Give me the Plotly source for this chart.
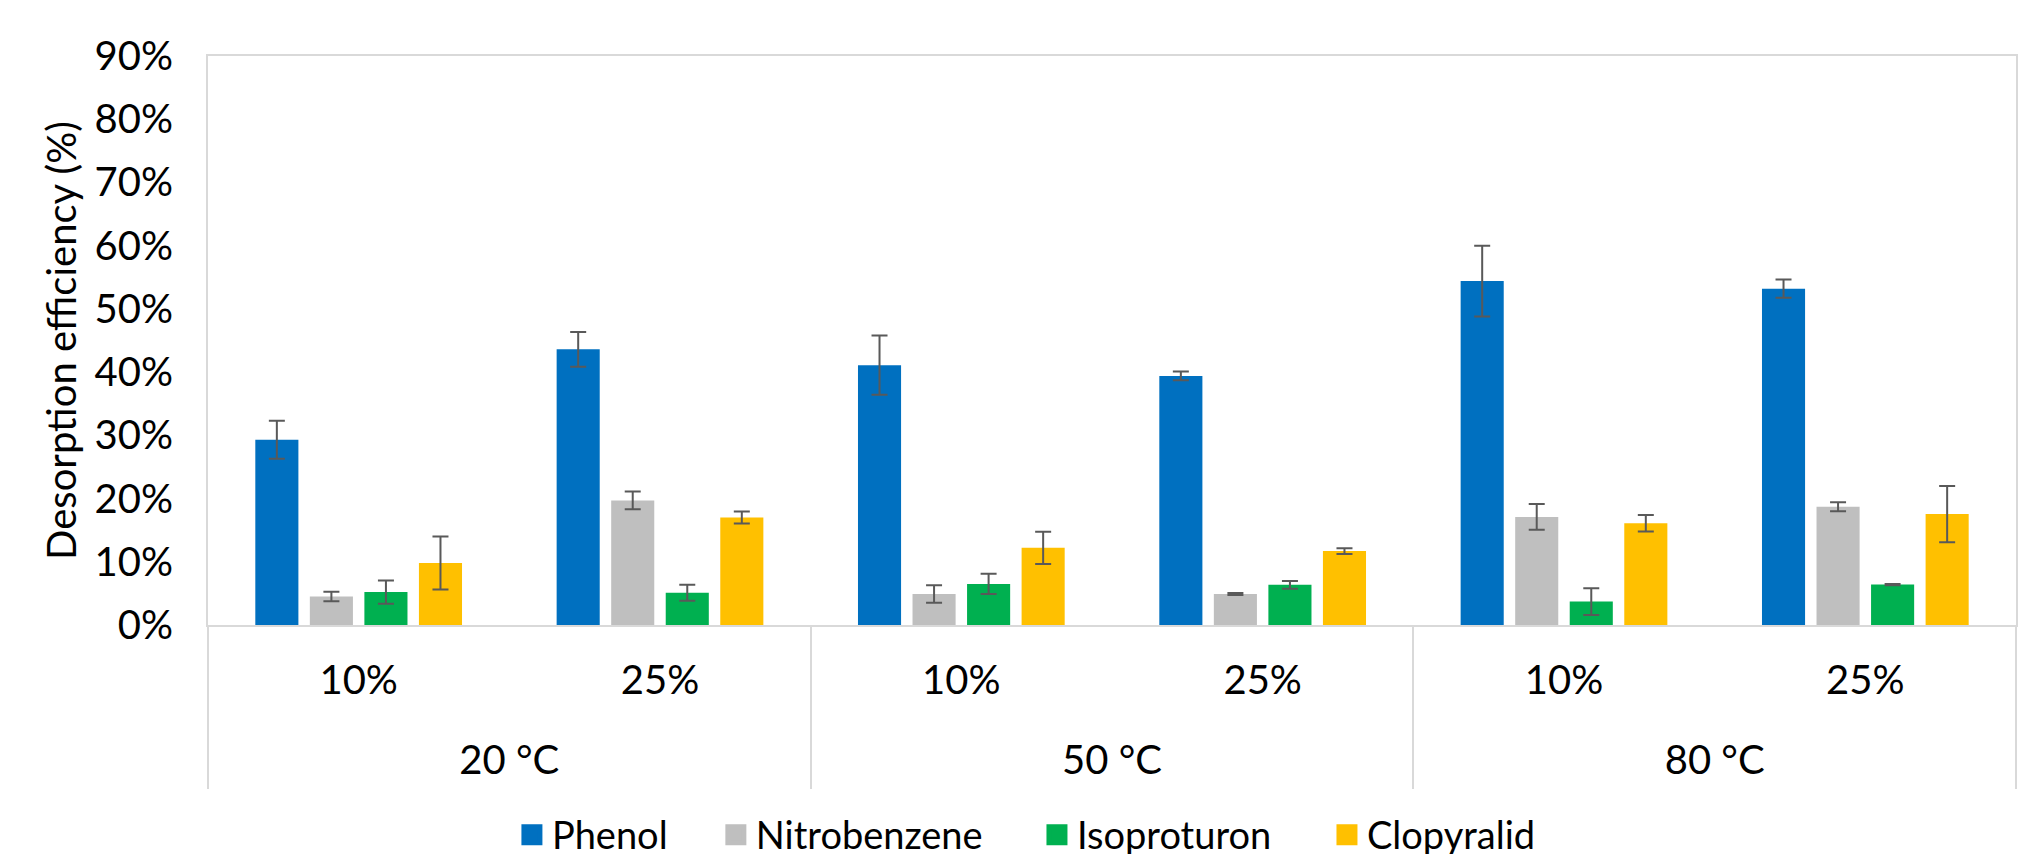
import plotly.graph_objects as go

temps = ["20 °C", "20 °C", "50 °C", "50 °C", "80 °C", "80 °C"]
ratios = ["10%", "25%", "10%", "25%", "10%", "25%"]

series = ["Phenol", "Nitrobenzene", "Isoproturon", "Clopyralid"]
colors = ["#0070C0", "#BFBFBF", "#00B050", "#FFC000"]

phenol = [29.3, 43.6, 41.1, 39.4, 54.4, 53.2]
phenol_err = [3.0, 2.75, 4.7, 0.7, 5.6, 1.45]
nitrobenzene = [4.5, 19.7, 4.9, 4.9, 17.1, 18.7]
nitrobenzene_err = [0.75, 1.4, 1.4, 0.15, 2.05, 0.7]
isoproturon = [5.2, 5.1, 6.5, 6.35, 3.7, 6.4]
isoproturon_err = [1.85, 1.25, 1.6, 0.6, 2.1, 0.1]
clopyralid = [9.8, 17.0, 12.2, 11.7, 16.1, 17.55]
clopyralid_err = [4.2, 0.95, 2.55, 0.45, 1.3, 4.45]

values = [phenol, nitrobenzene, isoproturon, clopyralid]
errors = [phenol_err, nitrobenzene_err, isoproturon_err, clopyralid_err]

FONT = "Lato"
TICK_SIZE = 40
LEGEND_SIZE = 38

# invisible tall spacers: push the second label row down and lengthen the dividers
SP1 = "<span style='font-size:81px'>\u00a0</span>"
SP2 = "<span style='font-size:64px'>\u00a0</span>"
ratio_labels = [SP1 + r + SP1 for r in ratios]
temp_labels = [SP2 + t + SP2 for t in temps]

# legend entry positions (paper x) — one legend box per entry, spaced like the original
legend_x = [0.1681, 0.2809, 0.4585, 0.6189]
legend_ids = ["legend", "legend2", "legend3", "legend4"]

fig = go.Figure()
for name, col, v, e in zip(series, colors, values, errors):
    fig.add_trace(go.Bar(
        x=[temp_labels, ratio_labels], y=v, name=name, showlegend=False,
        marker=dict(color=col, line=dict(width=0)),
        error_y=dict(type="data", array=e, visible=True,
                     color="#595959", thickness=2, width=8),
    ))
# legend entries with square swatches
for name, col, lid in zip(series, colors, legend_ids):
    fig.add_trace(go.Scatter(
        x=[[temp_labels[0]], [ratio_labels[0]]], y=[None], name=name, mode="markers",
        marker=dict(symbol="square", size=16, color=col, line=dict(color=col, width=5)),
        showlegend=True, legend=lid, hoverinfo="skip",
    ))

legend_common = dict(orientation="h", xanchor="left", y=-0.369, yanchor="middle",
                     font=dict(family=FONT, size=LEGEND_SIZE, color="black"),
                     itemwidth=30, bgcolor="rgba(0,0,0,0)")

fig.update_layout(
    width=2037, height=854,
    margin=dict(l=200, r=29, t=48, b=237, autoexpand=False),
    paper_bgcolor="white", plot_bgcolor="white",
    barmode="group", bargap=0.276, bargroupgap=0.21,
    font=dict(family=FONT, size=TICK_SIZE, color="black"),
    showlegend=True,
    **{lid: dict(x=lx, **legend_common) for lid, lx in zip(legend_ids, legend_x)},
)
fig.update_xaxes(
    type="multicategory",
    showline=True, linecolor="#D9D9D9", linewidth=2, mirror=True,
    showgrid=False, ticks="", ticklabelstandoff=19,
    dividercolor="#D9D9D9", dividerwidth=1.5, showdividers=True,
    tickfont=dict(family=FONT, size=TICK_SIZE, color="black"),
    automargin=False,
)
fig.update_yaxes(
    range=[0, 90], dtick=10, ticksuffix="%",
    showline=True, linecolor="#D9D9D9", linewidth=2, mirror=True,
    showgrid=False, zeroline=False,
    ticks="outside", ticklen=25, tickcolor="rgba(0,0,0,0)",
    tickfont=dict(family=FONT, size=TICK_SIZE, color="black"),
    title=dict(text="Desorption efficiency (%)", font=dict(family=FONT, size=40, color="black"), standoff=6),
    automargin=False,
)

fig.write_html("out.html")
